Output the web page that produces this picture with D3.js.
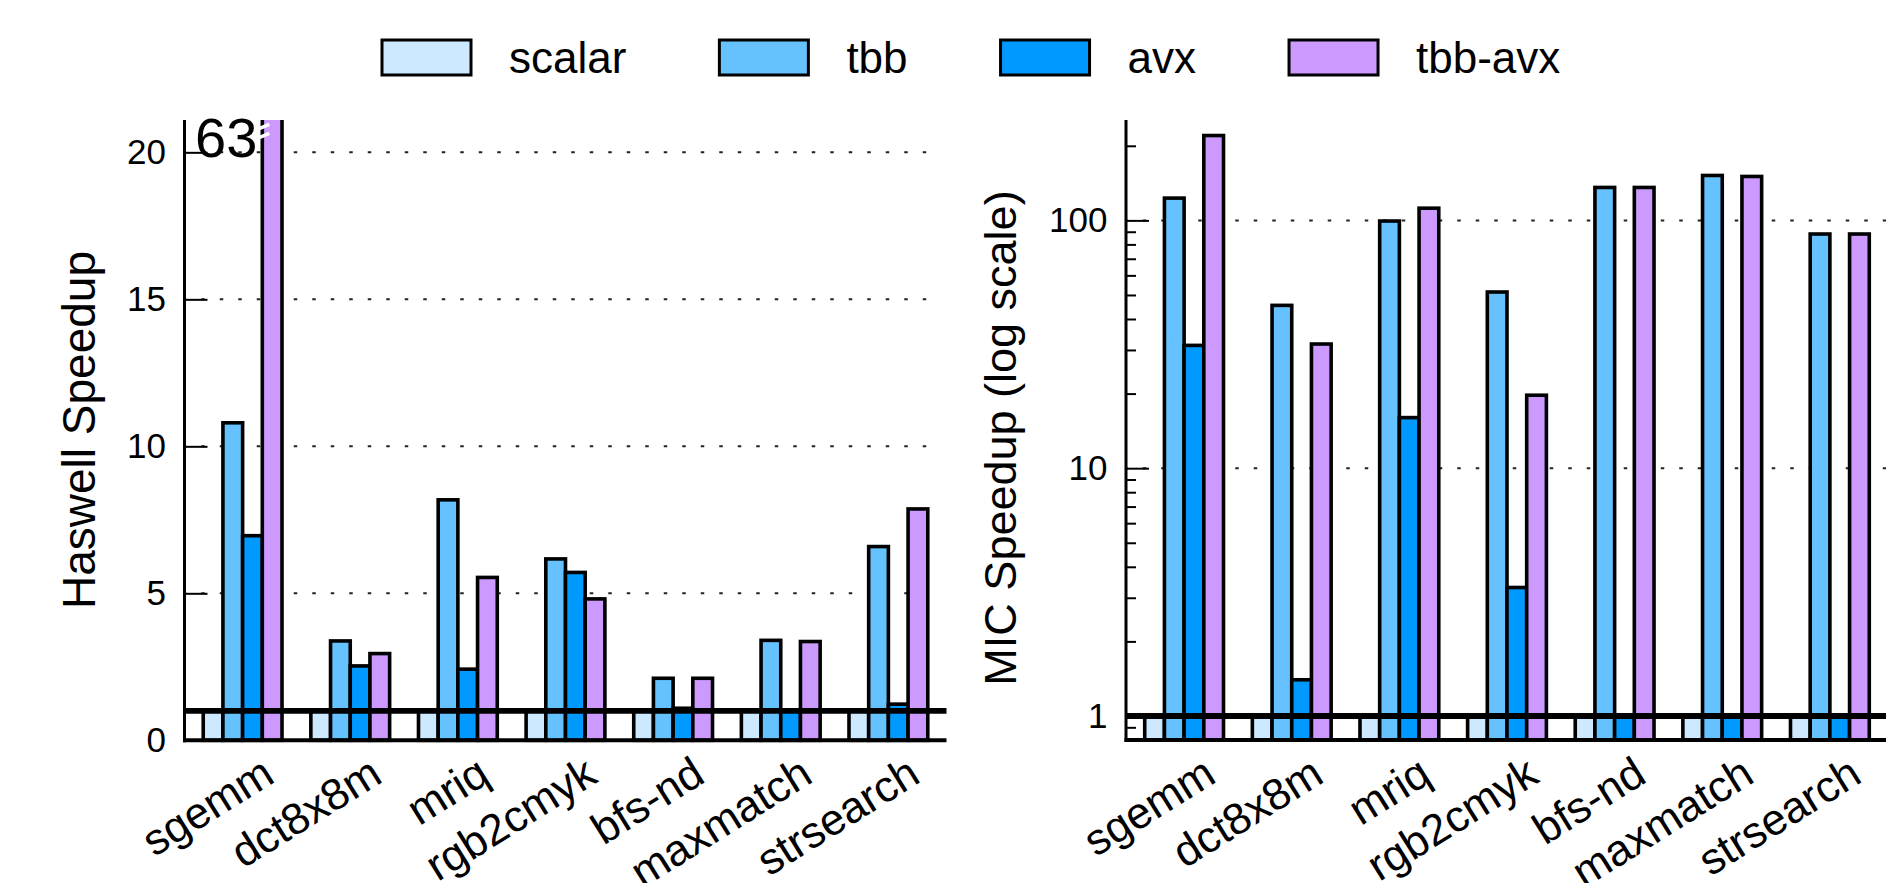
<!DOCTYPE html>
<html>
<head>
<meta charset="utf-8">
<script src="https://cdn.jsdelivr.net/npm/d3@7"></script>
<style>
  body { margin: 0; background: #fff; }
  svg { display: block; font-family: "Liberation Sans", Arial, Helvetica, sans-serif; }
</style>
</head>
<body>
<svg id="chart" width="1886" height="883"></svg>
<script>
// benchmark names and series
const categories = ["sgemm", "dct8x8m", "mriq", "rgb2cmyk", "bfs-nd", "maxmatch", "strsearch"];
const seriesNames = ["scalar", "tbb", "avx", "tbb-avx"];
const seriesColors = ["#cce9ff", "#66c2ff", "#0099ff", "#cc99ff"];

// Haswell speedups (linear axis)
const haswellScalar = [1, 1, 1, 1, 1, 1, 1];
const haswellTbb    = [10.8, 3.38, 8.18, 6.17, 2.11, 3.40, 6.59];
const haswellAvx    = [6.96, 2.53, 2.42, 5.71, 1.09, 1.0, 1.23];
const haswellTbbAvx = [63, 2.95, 5.54, 4.81, 2.11, 3.36, 7.87];

// MIC speedups (log axis)
const micScalar = [1, 1, 1, 1, 1, 1, 1];
const micTbb    = [123, 45.4, 99.4, 51.4, 135.8, 151.8, 88.1];
const micAvx    = [31.3, 1.40, 16.0, 3.30, 1.0, 1.0, 1.0];
const micTbbAvx = [220, 31.7, 112, 19.7, 135.8, 150.4, 88.1];

const haswellTicks = [0, 5, 10, 15, 20];
const micTicks = [1, 10, 100];
const micMinorTicks = [0.9, 2, 3, 4, 5, 6, 7, 8, 9, 20, 30, 40, 50, 60, 70, 80, 90, 200];

const svg = d3.select("#chart");
const plotTop = 120;
const barW = 0.183;

function drawPanel(opt) {
  const bottom = opt.bottom;
  const x = d3.scaleLinear().domain([-0.54, 6.54]).range([opt.left, opt.right]);
  const y = opt.y;
  const g = svg.append("g");
  const clipId = "clip" + opt.name;
  svg.append("clipPath").attr("id", clipId)
    .append("rect")
    .attr("x", opt.left).attr("y", plotTop)
    .attr("width", opt.right - opt.left).attr("height", bottom - plotTop + 6);

  // dotted grid
  g.append("g").selectAll("line").data(opt.grid).join("line")
    .attr("x1", opt.left).attr("x2", opt.gridEnd)
    .attr("y1", d => y(d)).attr("y2", d => y(d))
    .attr("stroke", "#222").attr("stroke-width", 2)
    .attr("stroke-dasharray", "3.5 15")
    .attr("stroke-dashoffset", 1.75);

  // bars
  const rows = [];
  categories.forEach((c, i) => {
    opt.series.forEach((vals, s) => {
      rows.push({i, s, v: vals[i]});
    });
  });
  const unit = x(1) - x(0);
  g.append("g").attr("clip-path", `url(#${clipId})`)
    .selectAll("rect").data(rows).join("rect")
    .attr("x", d => x(d.i) + (d.s - 2) * barW * unit)
    .attr("width", barW * unit)
    .attr("y", d => y(d.v))
    .attr("height", d => bottom - y(d.v))
    .attr("fill", d => seriesColors[d.s])
    .attr("stroke", "#000")
    .attr("stroke-width", 3.6);

  // thick baseline at speedup 1
  g.append("line")
    .attr("x1", opt.left).attr("x2", opt.right)
    .attr("y1", y(1)).attr("y2", y(1))
    .attr("stroke", "#000").attr("stroke-width", 5.8);

  // y axis
  const axis = d3.axisLeft(y).tickValues(opt.ticks)
    .tickSizeInner(-23).tickSizeOuter(0).tickPadding(18.5)
    .tickFormat(d3.format("d"));
  const ag = g.append("g").attr("transform", `translate(${opt.left},0)`).call(axis);
  ag.select(".domain").remove();
  ag.selectAll(".tick line").attr("stroke", "#000").attr("stroke-width", 2);
  ag.selectAll(".tick text").attr("font-size", 35).attr("fill", "#000")
    .attr("font-family", "'Liberation Sans', Arial, sans-serif");

  if (opt.minor) {
    const mg = g.append("g").attr("transform", `translate(${opt.left},0)`)
      .call(d3.axisLeft(y).tickValues(opt.minor).tickSizeInner(-10).tickSizeOuter(0).tickFormat(""));
    mg.select(".domain").remove();
    mg.selectAll(".tick line").attr("stroke", "#000").attr("stroke-width", 2);
  }

  g.append("line")
    .attr("x1", opt.left).attr("x2", opt.left)
    .attr("y1", plotTop).attr("y2", bottom + 2)
    .attr("stroke", "#000").attr("stroke-width", 3);
  g.append("line")
    .attr("x1", opt.left - 1.5).attr("x2", opt.right)
    .attr("y1", bottom).attr("y2", bottom)
    .attr("stroke", "#000").attr("stroke-width", 4);

  // category labels
  g.append("g").selectAll("text").data(categories).join("text")
    .attr("transform", (d, i) => `translate(${x(i) + 34},781) rotate(-32)`)
    .attr("text-anchor", "end")
    .attr("font-size", 44)
    .text(d => d);

  // axis title
  g.append("text")
    .attr("transform", `translate(${opt.titleX},${opt.titleY}) rotate(-90)`)
    .attr("text-anchor", "middle")
    .attr("font-size", opt.titleSize)
    .text(opt.title);

  return {x, y, unit};
}

const yHas = d3.scaleLinear().domain([0, 21.1]).range([740.3, plotTop]);
const left = drawPanel({
  name: "has", left: 184.5, right: 946.5, gridEnd: 938, bottom: 740.3,
  y: yHas, ticks: haswellTicks, grid: haswellTicks.filter(d => d > 0),
  series: [haswellScalar, haswellTbb, haswellAvx, haswellTbbAvx],
  title: "Haswell Speedup", titleX: 95, titleY: 430, titleSize: 46
});

const yMic = d3.scaleLog().domain([0.8, 250]).range([740, 740 - 247.8 * Math.log10(250 / 0.8)]);
drawPanel({
  name: "mic", left: 1126, right: 1888, gridEnd: 1886, bottom: 740,
  y: yMic, ticks: micTicks, grid: [10, 100], minor: micMinorTicks,
  series: [micScalar, micTbb, micAvx, micTbbAvx],
  title: "MIC Speedup (log scale)", titleX: 1016, titleY: 438, titleSize: 45
});

// value label and break marks on the clipped sgemm tbb-avx bar
const cutX = left.x(0) + 1 * barW * left.unit;
svg.append("text")
  .attr("x", cutX - 5).attr("y", yHas(20) + 5)
  .attr("text-anchor", "end").attr("font-size", 56)
  .text(haswellTbbAvx[0]);
[20.2, 19.9].forEach(v => {
  svg.append("line")
    .attr("x1", cutX - 5).attr("y1", yHas(v) - 17)
    .attr("x2", cutX + 7).attr("y2", yHas(v) - 22)
    .attr("stroke", "#fff").attr("stroke-width", 3.5);
});

// legend
const legend = svg.append("g");
let lx = 382;
seriesNames.forEach((name, i) => {
  legend.append("rect")
    .attr("x", lx).attr("y", 40).attr("width", 89).attr("height", 35)
    .attr("fill", seriesColors[i]).attr("stroke", "#000").attr("stroke-width", 3);
  const t = legend.append("text")
    .attr("x", lx + 89 + 38).attr("y", 57.5)
    .attr("dominant-baseline", "central")
    .attr("font-size", 44)
    .text(name);
  lx += 89 + 38 + t.node().getComputedTextLength() + 93;
});
</script>
</body>
</html>
